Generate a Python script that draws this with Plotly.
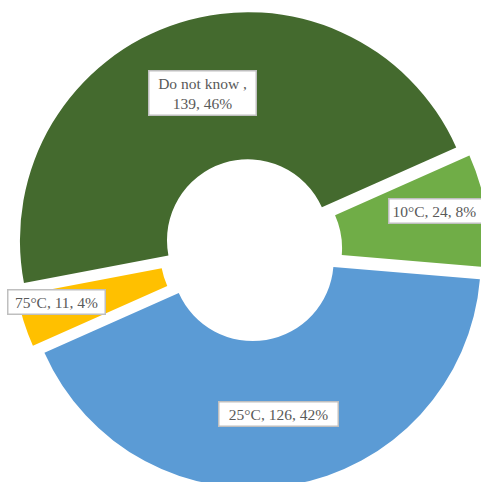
import plotly.graph_objects as go

# Responses: preferred water temperature
categories = ["10°C", "25°C", "75°C", "Do not know "]
counts = [24, 126, 11, 139]
colors = ["#70AD47", "#5B9BD5", "#FFC000", "#446A2E"]

total = sum(counts)
percents = [round(v / total * 100) for v in counts]

# Figure canvas (slightly larger than the visible page so the ring bleeds off the right/bottom)
W, H = 502, 500
cx, cy = 251, 250          # ring centre in px
radius = 228               # ring radius in px
pull = 0.045               # explosion of every slice (fraction of radius)

half = radius * (1 + pull)
dom_x = [(cx - half) / W, (cx + half) / W]
dom_y = [1 - (cy + half) / H, 1 - (cy - half) / H]

fig = go.Figure(
    go.Pie(
        labels=categories,
        values=counts,
        sort=False,
        direction="clockwise",
        rotation=66,
        hole=0.355,
        pull=[pull] * len(counts),
        marker=dict(colors=colors, line=dict(width=0)),
        textinfo="none",
        hoverinfo="skip",
        showlegend=False,
        domain=dict(x=dom_x, y=dom_y),
    )
)

# Data label boxes: anchor position (px), horizontal anchor, box width (px), text alignment
label_pos = [(388, 211), (278, 414), (56, 302), (202, 93)]
label_anchor = ["left", "center", "center", "center"]
label_w = [100, 121, 99, 109]
label_align = ["left", "center", "center", "center"]
wraps = [" ", " ", " ", "<br>"]

for cat, v, p, (lx, ly), xa, bw, al, sep in zip(
        categories, counts, percents, label_pos, label_anchor, label_w, label_align, wraps):
    fig.add_annotation(
        x=lx / W, y=1 - ly / H, xref="paper", yref="paper",
        xanchor=xa, yanchor="middle",
        text=f"{cat},{sep}{v}, {p}%",
        showarrow=False,
        font=dict(family="Liberation Serif, Times New Roman, serif", size=15.5, color="#595959"),
        bgcolor="#FFFFFF",
        bordercolor="#BFBFBF",
        borderwidth=1.5,
        borderpad=3,
        width=bw - 9,
        align=al,
    )

fig.update_layout(
    width=W, height=H,
    margin=dict(l=0, r=0, t=0, b=0),
    paper_bgcolor="#FFFFFF",
    plot_bgcolor="#FFFFFF",
)

fig.write_html(
    "out.html",
    config={"displayModeBar": False},
    post_script="document.documentElement.style.overflow='hidden';"
                "document.body.style.overflow='hidden';document.body.style.margin='0';",
)
